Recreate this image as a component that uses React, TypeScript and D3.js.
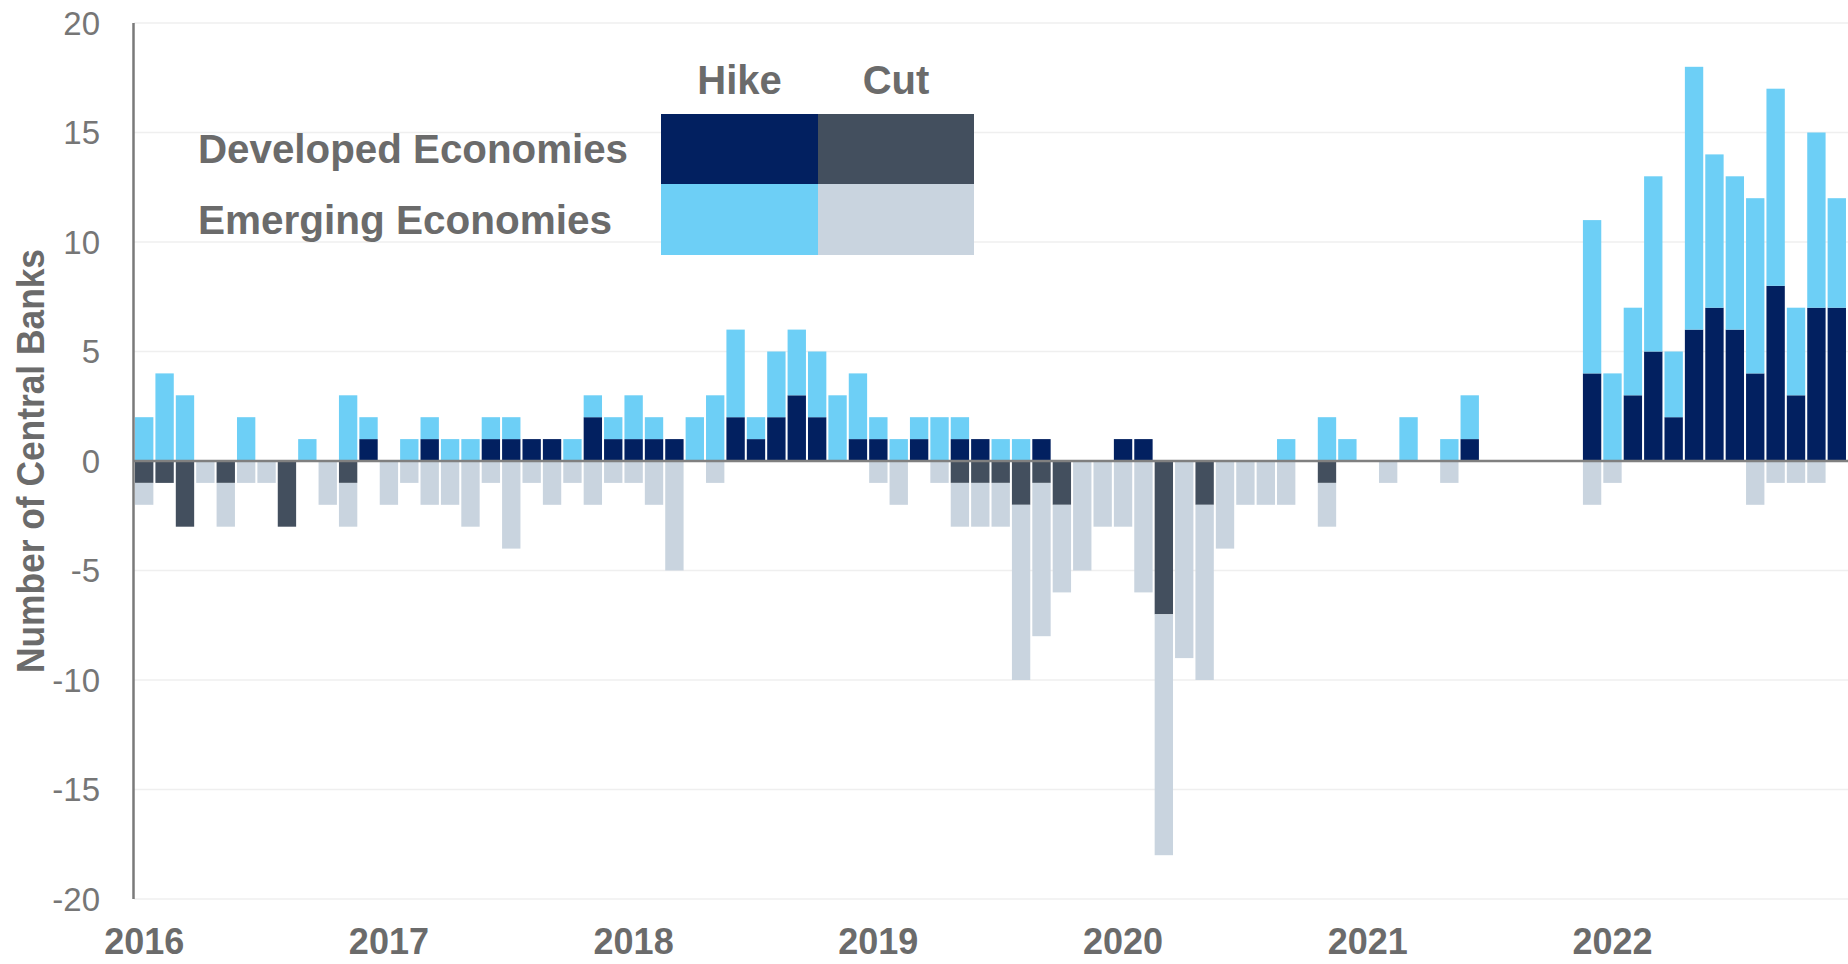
import React from "react";
import * as d3 from "d3";

const months: string[] = [];
for (let y = 2016; y <= 2022; y++) for (let m = 1; m <= 12; m++) months.push(`${y}-${String(m).padStart(2, "0")}`);

const devHike = [
  0,0,0,0,0,0,0,0,0,0,0,1,
  0,0,1,0,0,1,1,1,1,0,2,1,
  1,1,1,0,0,2,1,2,3,2,0,1,
  1,0,1,0,1,1,0,0,1,0,0,0,
  1,1,0,0,0,0,0,0,0,0,0,0,
  0,0,0,0,0,1,0,0,0,0,0,4,
  0,3,5,2,6,7,6,4,8,3,7,7,
];
const emHike = [
  2,4,3,0,0,2,0,0,1,0,3,1,
  0,1,1,1,1,1,1,0,0,1,1,1,
  2,1,0,2,3,4,1,3,3,3,3,3,
  1,1,1,2,1,0,1,1,0,0,0,0,
  0,0,0,0,0,0,0,0,1,0,2,1,
  0,0,2,0,1,2,0,0,0,0,0,7,
  4,4,8,3,12,7,7,8,9,4,8,5,
];
const devCut = [
  1,1,3,0,1,0,0,3,0,0,1,0,
  0,0,0,0,0,0,0,0,0,0,0,0,
  0,0,0,0,0,0,0,0,0,0,0,0,
  0,0,0,0,1,1,1,2,1,2,0,0,
  0,0,7,0,2,0,0,0,0,0,1,0,
  0,0,0,0,0,0,0,0,0,0,0,0,
  0,0,0,0,0,0,0,0,0,0,0,0,
];
const emCut = [
  1,0,0,1,2,1,1,0,0,2,2,0,
  2,1,2,2,3,1,4,1,2,1,2,1,
  1,2,5,0,1,0,0,0,0,0,0,0,
  1,2,0,1,2,2,2,8,7,4,5,3,
  3,6,11,9,8,4,2,2,2,0,2,0,
  0,1,0,0,1,0,0,0,0,0,0,2,
  1,0,0,0,0,0,0,2,1,1,1,0,
];
const yTicks = [20, 15, 10, 5, 0, -5, -10, -15, -20];
const yearLabels = ["2016", "2017", "2018", "2019", "2020", "2021", "2022"];

const COLORS = {
  devHike: "#022060",
  emHike: "#6dcff6",
  devCut: "#434f5e",
  emCut: "#c9d4df",
};
const TEXT = "#6b6b6b";
const FONT = "'Liberation Sans', Arial, sans-serif";

export default function App() {
  const W = 1848, H = 964;
  const x = d3.scaleBand<string>().domain(months).range([134, 1847]).paddingInner(0.1).paddingOuter(0.05);
  const y = d3.scaleLinear().domain([-20, 20]).range([899, 23]);
  const bw = x.bandwidth();

  const bars: React.ReactNode[] = [];
  months.forEach((m, i) => {
    const x0 = x(m)!;
    const segs = [
      { from: 0, to: devHike[i], c: COLORS.devHike },
      { from: devHike[i], to: devHike[i] + emHike[i], c: COLORS.emHike },
      { from: 0, to: -devCut[i], c: COLORS.devCut },
      { from: -devCut[i], to: -devCut[i] - emCut[i], c: COLORS.emCut },
    ];
    segs.forEach((s, k) => {
      if (s.from === s.to) return;
      const ya = y(Math.max(s.from, s.to));
      const yb = y(Math.min(s.from, s.to));
      bars.push(<rect key={`${m}-${k}`} x={x0} y={ya} width={bw} height={yb - ya} fill={s.c} />);
    });
  });

  return (
    <svg width={W} height={H} style={{ position: "absolute", left: 0, top: 0, background: "#fff" }} fontFamily={FONT}>
      {yTicks.filter((t) => t !== 0).map((t) => (
        <line key={`g${t}`} x1={134} x2={W} y1={y(t)} y2={y(t)} stroke="#efefef" strokeWidth={1.5} />
      ))}
      {bars}
      <line x1={133} x2={W} y1={y(0)} y2={y(0)} stroke="#808080" strokeWidth={2.5} />
      <line x1={133.5} x2={133.5} y1={y(20)} y2={y(-20)} stroke="#7a7a7a" strokeWidth={2.5} />
      {yTicks.map((t) => (
        <text key={`t${t}`} x={100} y={y(t)} dy="0.36em" textAnchor="end" fontSize={33} fill="#767676">
          {t}
        </text>
      ))}
      {yearLabels.map((yl) => {
        const m = `${yl}-01`;
        return (
          <text key={yl} x={x(m)! + bw / 2} y={954} textAnchor="middle" fontSize={36} fontWeight="bold" fill={TEXT}>
            {yl}
          </text>
        );
      })}
      <text
        transform={`translate(44, ${y(0)}) rotate(-90)`}
        textAnchor="middle"
        fontSize={38}
        fontWeight="bold"
        fill={TEXT}
        textLength={424}
        lengthAdjust="spacingAndGlyphs"
      >
        Number of Central Banks
      </text>
      {/* Legend */}
      <g>
        <rect x={661} y={114} width={157} height={70} fill={COLORS.devHike} />
        <rect x={818} y={114} width={156} height={70} fill={COLORS.devCut} />
        <rect x={661} y={184} width={157} height={71} fill={COLORS.emHike} />
        <rect x={818} y={184} width={156} height={71} fill={COLORS.emCut} />
        <text x={739.5} y={94} textAnchor="middle" fontSize={40} fontWeight="bold" fill={TEXT}>Hike</text>
        <text x={896} y={94} textAnchor="middle" fontSize={40} fontWeight="bold" fill={TEXT}>Cut</text>
        <text x={198} y={163} fontSize={40} fontWeight="bold" fill={TEXT} textLength={430} lengthAdjust="spacingAndGlyphs">Developed Economies</text>
        <text x={198} y={234} fontSize={40} fontWeight="bold" fill={TEXT} textLength={414} lengthAdjust="spacingAndGlyphs">Emerging Economies</text>
      </g>
    </svg>
  );
}
